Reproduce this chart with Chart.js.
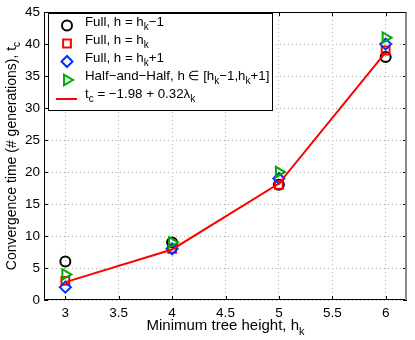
<!DOCTYPE html>
<html>
<head>
<meta charset="utf-8">
<script src="https://cdn.jsdelivr.net/npm/chart.js@4/dist/chart.umd.min.js"></script>
<style>
html,body{margin:0;padding:0;background:#fff;}
canvas{display:block;}
</style>
</head>
<body>
<canvas id="c" width="415" height="340"></canvas>
<script>
// ---- data ----
const hk = [3, 4, 5, 6];
const fullMinus = [6, 9, 18, 38];
const fullEq = [3, 8, 18, 39];
const fullPlus = [2, 8, 19, 40];
const halfHalf = [4, 9, 20, 41];
const fitLine = [2.8, 7.9, 18.2, 38.7];
const xTicks = [3, 3.5, 4, 4.5, 5, 5.5, 6];
const yTicks = [0, 5, 10, 15, 20, 25, 30, 35, 40, 45];
const legendLabels = [
  'Full, h = h_{k}\u22121',
  'Full, h = h_{k}',
  'Full, h = h_{k}+1',
  'Half\u2212and\u2212Half, h \u2208 [h_{k}\u22121,h_{k}+1]',
  't_{c} = \u22121.98 + 0.32\u03bb_{k}'
];
const xTitle = 'Minimum tree height, h_{k}';
const yTitle = 'Convergence time (# generations), t_{c}';

const FONT = '"Liberation Sans", Arial, Helvetica, sans-serif';
const toXY = (ys) => hk.map((x, i) => ({x: x, y: ys[i]}));

function parseRich(s) {
  const parts = [];
  const re = /_\{([^}]*)\}/g;
  let last = 0, m;
  while ((m = re.exec(s)) !== null) {
    if (m.index > last) parts.push({t: s.slice(last, m.index), sub: false});
    parts.push({t: m[1], sub: true});
    last = re.lastIndex;
  }
  if (last < s.length) parts.push({t: s.slice(last), sub: false});
  return parts;
}
function richWidth(ctx, s, size) {
  let w = 0;
  for (const p of parseRich(s)) {
    ctx.font = (p.sub ? Math.round(size * 0.72) : size) + 'px ' + FONT;
    w += ctx.measureText(p.t).width;
  }
  return w;
}
function drawRich(ctx, s, x, y, size) {
  let cx = x;
  ctx.textBaseline = 'alphabetic';
  ctx.textAlign = 'left';
  for (const p of parseRich(s)) {
    const fs = p.sub ? Math.round(size * 0.72) : size;
    ctx.font = fs + 'px ' + FONT;
    ctx.fillText(p.t, cx, p.sub ? y + size * 0.32 : y);
    cx += ctx.measureText(p.t).width;
  }
}

const markerStyles = [
  {style: 'circle', color: '#000000', r: 5, rot: 0},
  {style: 'rect', color: '#ff0000', r: 5.5, rot: 0},
  {style: 'rectRot', color: '#0033ff', r: 5.5, rot: 0},
  {style: 'triangle', color: '#00aa00', r: 6, rot: 90}
];

const decor = {
  id: 'decor',
  afterDatasetsDraw(chart) {
    const ctx = chart.ctx;
    const a = chart.chartArea;
    const xs = chart.scales.x, ys = chart.scales.y;
    ctx.save();
    ctx.strokeStyle = '#000';
    ctx.lineWidth = 1;
    const L = Math.round(a.left) + 0.5, T = Math.round(a.top) + 0.5;
    const R = Math.round(a.right) - 0.5, B = Math.round(a.bottom) - 0.5;
    ctx.beginPath();
    ctx.moveTo(R, T); ctx.lineTo(L, T); ctx.lineTo(L, B); ctx.lineTo(R, B);
    for (const v of xTicks) {
      const px = Math.round(xs.getPixelForValue(v)) + 0.5;
      ctx.moveTo(px, a.bottom); ctx.lineTo(px, a.bottom - 4);
      ctx.moveTo(px, a.top); ctx.lineTo(px, a.top + 4);
    }
    for (const v of yTicks) {
      const py = Math.round(ys.getPixelForValue(v)) + 0.5;
      ctx.moveTo(a.left, py); ctx.lineTo(a.left + 4, py);
      ctx.moveTo(a.right, py); ctx.lineTo(a.right - 4, py);
    }
    ctx.stroke();
    // right edge (rendered greyer and wider in the reference)
    ctx.strokeStyle = '#8a8a8a';
    ctx.lineWidth = 2;
    ctx.beginPath();
    ctx.moveTo(Math.round(a.right) - 1, T); ctx.lineTo(Math.round(a.right) - 1, B + 0.5);
    ctx.stroke();
    ctx.restore();
  },
  afterDraw(chart) {
    const ctx = chart.ctx;
    const a = chart.chartArea;
    ctx.save();
    ctx.fillStyle = '#000';
    // x title
    const xw = richWidth(ctx, xTitle, 15);
    drawRich(ctx, xTitle, (a.left + a.right) / 2 - xw / 2, 330, 15);
    // y title
    ctx.save();
    ctx.translate(16, (a.top + a.bottom) / 2);
    ctx.rotate(-Math.PI / 2);
    const yw = richWidth(ctx, yTitle, 14);
    drawRich(ctx, yTitle, -yw / 2, 0, 14);
    ctx.restore();
    // legend
    const lx = 48.5, ly = 13.5, lw = 224, lh = 97;
    ctx.fillStyle = '#fff';
    ctx.fillRect(lx, ly, lw, lh);
    ctx.strokeStyle = '#000';
    ctx.lineWidth = 1;
    ctx.strokeRect(lx, ly, lw, lh);
    const baselines = [25.5, 43.5, 61.5, 80, 97.5];
    for (let i = 0; i < legendLabels.length; i++) {
      const by = baselines[i];
      if (i < 4) {
        const m = markerStyles[i];
        ctx.strokeStyle = m.color;
        ctx.fillStyle = 'rgba(0,0,0,0)';
        ctx.lineWidth = 2;
        Chart.helpers.drawPoint(ctx, {pointStyle: m.style, radius: m.r, rotation: m.rot, borderWidth: 2}, 67, by);
      } else {
        ctx.strokeStyle = '#ff0000';
        ctx.lineWidth = 2;
        ctx.beginPath();
        ctx.moveTo(56, by + 1.5); ctx.lineTo(77, by + 1.5);
        ctx.stroke();
      }
      ctx.fillStyle = '#000';
      drawRich(ctx, legendLabels[i], 85, by, 13.3);
    }
    ctx.restore();
  }
};

const gridCfg = {color: '#b0b0b0', lineWidth: 1, drawTicks: false, tickLength: 0};

new Chart(document.getElementById('c'), {
  type: 'scatter',
  data: {
    datasets: [
      {label: 'fit', data: toXY(fitLine), showLine: true, borderColor: '#ff0000', borderWidth: 2, pointRadius: 0, order: 0, tension: 0},
      {label: 'half', data: toXY(halfHalf), pointStyle: 'triangle', rotation: 90, pointRadius: 6, borderColor: '#00aa00', backgroundColor: 'rgba(0,0,0,0)', borderWidth: 2, order: 1},
      {label: 'plus', data: toXY(fullPlus), pointStyle: 'rectRot', pointRadius: 5.5, borderColor: '#0033ff', backgroundColor: 'rgba(0,0,0,0)', borderWidth: 2, order: 2},
      {label: 'eq', data: toXY(fullEq), pointStyle: 'rect', pointRadius: 5.5, borderColor: '#ff0000', backgroundColor: 'rgba(0,0,0,0)', borderWidth: 2, order: 3},
      {label: 'minus', data: toXY(fullMinus), pointStyle: 'circle', pointRadius: 5, borderColor: '#000000', backgroundColor: 'rgba(0,0,0,0)', borderWidth: 2, order: 4}
    ]
  },
  options: {
    responsive: false,
    animation: false,
    events: [],
    layout: {padding: {top: 11, right: 3, left: 0, bottom: 0}},
    plugins: {legend: {display: false}, tooltip: {enabled: false}},
    scales: {
      x: {
        type: 'linear', min: 2.8, max: 6.2,
        afterBuildTicks: (s) => { s.ticks = xTicks.map(v => ({value: v})); },
        afterFit: (s) => { s.height = 40; },
        grid: Object.assign({}, gridCfg),
        border: {display: false, dash: [1, 3]},
        ticks: {color: '#000', font: {family: FONT, size: 13.5}, padding: 5, maxRotation: 0,
          callback: (v) => String(v)}
      },
      y: {
        type: 'linear', min: 0, max: 45,
        afterBuildTicks: (s) => { s.ticks = yTicks.map(v => ({value: v})); },
        afterFit: (s) => { s.width = 44; },
        grid: Object.assign({}, gridCfg),
        border: {display: false, dash: [1, 3]},
        ticks: {color: '#000', font: {family: FONT, size: 13.5}, padding: 4,
          callback: (v) => String(v)}
      }
    }
  },
  plugins: [decor]
});
</script>
</body>
</html>
